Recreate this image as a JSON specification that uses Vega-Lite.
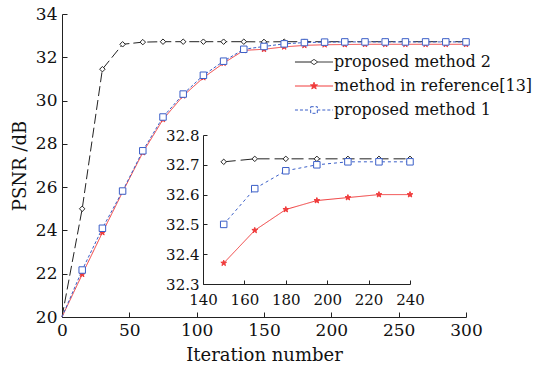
{
"$schema": "https://vega.github.io/schema/vega-lite/v6.json",
"width": 404, "height": 303,
"autosize": {"type": "none"},
"padding": {"left": 62, "top": 14, "right": 78, "bottom": 48},
"background": "white",
"config": {
 "view": {"stroke": null},
 "font": "DejaVu Serif",
 "axis": {"grid": false, "domainColor": "#222", "tickColor": "#222", "labelColor": "#111", "titleColor": "#111", "labelFont": "DejaVu Serif", "titleFont": "DejaVu Serif", "titleFontWeight": "normal", "domainWidth": 1, "tickWidth": 1, "labelOverlap": false, "labelBound": false, "labelFlush": false}
},
"data": {"values": [
{"s":"proposed method 2","i":0,"p":20},{"s":"proposed method 2","i":15,"p":25.0},{"s":"proposed method 2","i":30,"p":31.45},{"s":"proposed method 2","i":45,"p":32.6},{"s":"proposed method 2","i":60,"p":32.7},{"s":"proposed method 2","i":75,"p":32.72},{"s":"proposed method 2","i":90,"p":32.72},{"s":"proposed method 2","i":105,"p":32.72},{"s":"proposed method 2","i":120,"p":32.72},{"s":"proposed method 2","i":135,"p":32.72},{"s":"proposed method 2","i":150,"p":32.71},{"s":"proposed method 2","i":165,"p":32.72},{"s":"proposed method 2","i":180,"p":32.72},{"s":"proposed method 2","i":195,"p":32.72},{"s":"proposed method 2","i":210,"p":32.72},{"s":"proposed method 2","i":225,"p":32.72},{"s":"proposed method 2","i":240,"p":32.72},{"s":"proposed method 2","i":255,"p":32.72},{"s":"proposed method 2","i":270,"p":32.72},{"s":"proposed method 2","i":285,"p":32.72},{"s":"proposed method 2","i":300,"p":32.72},
{"s":"method in reference[13]","i":0,"p":20},{"s":"method in reference[13]","i":15,"p":21.97},{"s":"method in reference[13]","i":30,"p":23.9},{"s":"method in reference[13]","i":45,"p":25.78},{"s":"method in reference[13]","i":60,"p":27.6},{"s":"method in reference[13]","i":75,"p":29.13},{"s":"method in reference[13]","i":90,"p":30.22},{"s":"method in reference[13]","i":105,"p":31.06},{"s":"method in reference[13]","i":120,"p":31.73},{"s":"method in reference[13]","i":135,"p":32.32},{"s":"method in reference[13]","i":150,"p":32.37},{"s":"method in reference[13]","i":165,"p":32.48},{"s":"method in reference[13]","i":180,"p":32.55},{"s":"method in reference[13]","i":195,"p":32.58},{"s":"method in reference[13]","i":210,"p":32.59},{"s":"method in reference[13]","i":225,"p":32.6},{"s":"method in reference[13]","i":240,"p":32.6},{"s":"method in reference[13]","i":255,"p":32.6},{"s":"method in reference[13]","i":270,"p":32.6},{"s":"method in reference[13]","i":285,"p":32.6},{"s":"method in reference[13]","i":300,"p":32.6},
{"s":"proposed method 1","i":0,"p":20},{"s":"proposed method 1","i":15,"p":22.17},{"s":"proposed method 1","i":30,"p":24.1},{"s":"proposed method 1","i":45,"p":25.82},{"s":"proposed method 1","i":60,"p":27.68},{"s":"proposed method 1","i":75,"p":29.24},{"s":"proposed method 1","i":90,"p":30.3},{"s":"proposed method 1","i":105,"p":31.17},{"s":"proposed method 1","i":120,"p":31.82},{"s":"proposed method 1","i":135,"p":32.37},{"s":"proposed method 1","i":150,"p":32.5},{"s":"proposed method 1","i":165,"p":32.62},{"s":"proposed method 1","i":180,"p":32.68},{"s":"proposed method 1","i":195,"p":32.7},{"s":"proposed method 1","i":210,"p":32.71},{"s":"proposed method 1","i":225,"p":32.71},{"s":"proposed method 1","i":240,"p":32.71},{"s":"proposed method 1","i":255,"p":32.71},{"s":"proposed method 1","i":270,"p":32.71},{"s":"proposed method 1","i":285,"p":32.71},{"s":"proposed method 1","i":300,"p":32.71}
]},
"layer": [
 {
  "encoding": {
   "x": {"field": "i", "type": "quantitative", "scale": {"domain": [0, 300], "nice": false, "zero": false},
     "axis": {"values": [0,50,100,150,200,250,300], "tickSize": -5, "labelPadding": 10, "labelFontSize": 17, "title": "Iteration number", "titleFontSize": 18, "titlePadding": 8}},
   "y": {"field": "p", "type": "quantitative", "scale": {"domain": [20, 34], "nice": false, "zero": false},
     "axis": {"values": [20,22,24,26,28,30,32,34], "tickSize": -5, "labelPadding": 10, "labelFontSize": 17, "title": "PSNR /dB", "titleFontSize": 18, "titlePadding": 6}}
  },
  "layer": [
   {"mark": {"type": "line", "strokeWidth": 1},
    "encoding": {
     "stroke": {"field": "s", "type": "nominal", "scale": {"domain": ["proposed method 2", "method in reference[13]", "proposed method 1"], "range": ["#222222", "#f03a3a", "#3b5fc8"]}, "legend": null},
     "strokeDash": {"field": "s", "type": "nominal", "scale": {"domain": ["proposed method 2", "method in reference[13]", "proposed method 1"], "range": [[10,4],[1,0],[3,2]]}, "legend": null}
    }},
   {"transform": [{"filter": "datum.i > 0"}],
    "mark": {"type": "point", "strokeWidth": 1, "opacity": 1},
    "encoding": {
     "shape": {"field": "s", "type": "nominal", "scale": {"domain": ["proposed method 2", "method in reference[13]", "proposed method 1"], "range": ["diamond", "M0,-1L0.235,-0.324L0.951,-0.309L0.38,0.124L0.588,0.809L0,0.4L-0.588,0.809L-0.38,0.124L-0.951,-0.309L-0.235,-0.324Z", "square"]}, "legend": null},
     "stroke": {"field": "s", "type": "nominal", "legend": null},
     "fill": {"field": "s", "type": "nominal", "scale": {"domain": ["proposed method 2", "method in reference[13]", "proposed method 1"], "range": ["white", "#f03a3a", "white"]}, "legend": null},
     "size": {"field": "s", "type": "nominal", "scale": {"domain": ["proposed method 2", "method in reference[13]", "proposed method 1"], "range": [30, 42, 48]}, "legend": null}
    }}
  ]
 },
 {
  "transform": [{"filter": "datum.i >= 150 && datum.i <= 240"}],
  "encoding": {
   "x": {"field": "i", "type": "quantitative", "scale": {"domain": [140, 240], "range": [141, 348], "nice": false, "zero": false},
     "axis": {"orient": "bottom", "offset": -33, "values": [140,160,180,200,220,240], "tickSize": -4, "labelPadding": 12, "labelFontSize": 15, "title": null}},
   "y": {"field": "p", "type": "quantitative", "scale": {"domain": [32.3, 32.8], "range": [270, 121], "nice": false, "zero": false},
     "axis": {"orient": "left", "offset": -141, "values": [32.3,32.4,32.5,32.6,32.7,32.8], "format": ".1f", "tickSize": -4, "labelPadding": 8, "labelFontSize": 15, "title": null}}
  },
  "layer": [
   {"mark": {"type": "line", "strokeWidth": 1},
    "encoding": {
     "stroke": {"field": "s", "type": "nominal", "scale": {"domain": ["proposed method 2", "method in reference[13]", "proposed method 1"], "range": ["#222222", "#f03a3a", "#3b5fc8"]}, "legend": null},
     "strokeDash": {"field": "s", "type": "nominal", "scale": {"domain": ["proposed method 2", "method in reference[13]", "proposed method 1"], "range": [[12,5],[1,0],[3,3]]}, "legend": null}
    }},
   {"mark": {"type": "point", "strokeWidth": 1, "opacity": 1},
    "encoding": {
     "shape": {"field": "s", "type": "nominal", "scale": {"domain": ["proposed method 2", "method in reference[13]", "proposed method 1"], "range": ["diamond", "M0,-1L0.235,-0.324L0.951,-0.309L0.38,0.124L0.588,0.809L0,0.4L-0.588,0.809L-0.38,0.124L-0.951,-0.309L-0.235,-0.324Z", "square"]}, "legend": null},
     "stroke": {"field": "s", "type": "nominal", "legend": null},
     "fill": {"field": "s", "type": "nominal", "scale": {"domain": ["proposed method 2", "method in reference[13]", "proposed method 1"], "range": ["white", "#f03a3a", "white"]}, "legend": null},
     "size": {"field": "s", "type": "nominal", "scale": {"domain": ["proposed method 2", "method in reference[13]", "proposed method 1"], "range": [30, 42, 48]}, "legend": null}
    }}
  ]
 },
 {
  "transform": [{"filter": "false"}],
  "mark": {"type": "point", "strokeWidth": 1, "opacity": 1},
  "encoding": {
   "shape": {"field": "s", "type": "nominal",
     "scale": {"domain": ["proposed method 2", "method in reference[13]", "proposed method 1"], "range": ["M-3.17,0H-0.6M0.6,0H3.17M-0.6,0L0,-0.45L0.6,0L0,0.45Z", "M-3.17,0H3.17M0,-0.62L0.146,-0.2L0.59,-0.19L0.236,0.077L0.365,0.5L0,0.248L-0.365,0.5L-0.236,0.077L-0.59,-0.19L-0.146,-0.2Z", "M-3.17,0H-0.55M0.55,0H3.17M-0.55,-0.55H0.55V0.55H-0.55Z"]},
     "legend": {"orient": "none", "legendX": 244, "legendY": 40, "title": null, "padding": 0, "labelFont": "DejaVu Serif", "labelFontSize": 16, "labelColor": "#111", "labelLimit": 0, "symbolSize": 144, "symbolStrokeWidth": 1, "labelOffset": 12, "rowPadding": 8}},
   "stroke": {"field": "s", "type": "nominal",
     "scale": {"domain": ["proposed method 2", "method in reference[13]", "proposed method 1"], "range": ["#222222", "#f03a3a", "#3b5fc8"]},
     "legend": {"orient": "none", "legendX": 244, "legendY": 40, "title": null, "padding": 0, "labelFont": "DejaVu Serif", "labelFontSize": 16, "labelColor": "#111", "labelLimit": 0, "symbolSize": 144, "symbolStrokeWidth": 1, "labelOffset": 12, "rowPadding": 8}},
   "fill": {"field": "s", "type": "nominal",
     "scale": {"domain": ["proposed method 2", "method in reference[13]", "proposed method 1"], "range": ["white", "#f03a3a", "white"]},
     "legend": {"orient": "none", "legendX": 244, "legendY": 40, "title": null, "padding": 0, "labelFont": "DejaVu Serif", "labelFontSize": 16, "labelColor": "#111", "labelLimit": 0, "symbolSize": 144, "symbolStrokeWidth": 1, "labelOffset": 12, "rowPadding": 8}},
   "strokeDash": {"field": "s", "type": "nominal",
     "scale": {"domain": ["proposed method 2", "method in reference[13]", "proposed method 1"], "range": [[1,0],[1,0],[3,2]]},
     "legend": {"orient": "none", "legendX": 244, "legendY": 40, "title": null, "padding": 0, "labelFont": "DejaVu Serif", "labelFontSize": 16, "labelColor": "#111", "labelLimit": 0, "symbolSize": 144, "symbolStrokeWidth": 1, "labelOffset": 12, "rowPadding": 8}}
  }
 }
],
"resolve": {"scale": {"x": "independent", "y": "independent", "shape": "independent", "stroke": "independent", "fill": "independent", "strokeDash": "independent", "size": "independent"}, "axis": {"x": "independent", "y": "independent"}}
}
